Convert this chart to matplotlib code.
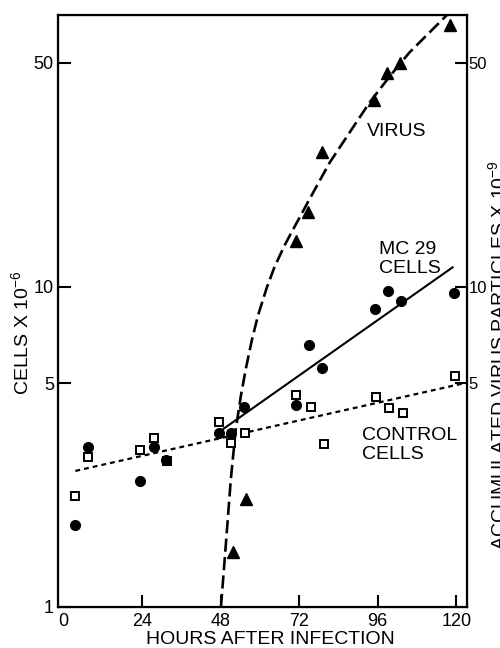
import matplotlib
matplotlib.use('Agg')
import matplotlib.pyplot as plt

plt.rcParams['font.family'] = ['Liberation Sans', 'DejaVu Sans']
plt.rcParams['mathtext.default'] = 'regular'

# MC 29 infected cells (filled circles)
mc29_hours = [3.6, 7.5, 23.4, 27.5, 31.3, 47.4, 51.3, 55.1, 71.1, 74.9, 79.1, 95.3, 99.1, 103.2, 119.2]
mc29_cells = [1.80, 3.16, 2.48, 3.16, 2.87, 3.49, 3.49, 4.21, 4.26, 6.59, 5.57, 8.52, 9.73, 9.04, 9.55]

# control cells (open squares)
ctrl_hours = [3.6, 7.6, 23.4, 27.5, 31.5, 47.4, 51.3, 55.5, 71.1, 75.5, 79.6, 95.5, 99.6, 103.6, 119.6]
ctrl_cells = [2.22, 2.94, 3.09, 3.37, 2.86, 3.78, 3.25, 3.49, 4.58, 4.21, 3.22, 4.54, 4.18, 4.03, 5.28]

# accumulated virus particles (filled triangles)
virus_hours = [51.7, 55.7, 71.0, 74.7, 78.9, 95.0, 98.7, 102.7, 118.2]
virus_particles = [1.49, 2.18, 13.9, 17.1, 26.4, 38.4, 46.6, 50.1, 65.9]

# fitted lines as drawn in the figure
mc29_fit_hours = [47.5, 118.9]
mc29_fit_cells = [3.52, 11.5]
ctrl_fit_hours = [3.6, 122.5]
ctrl_fit_cells = [2.66, 5.0]
virus_fit_hours = [48.1, 49.6, 51.1, 52.6, 54.2, 55.7, 57.5, 59.4, 62.1, 64.5, 67.6, 70.6,
                   75.2, 81.3, 87.4, 93.5, 99.6, 105.7, 111.8, 117.9]
virus_fit_particles = [1.0, 1.57, 2.49, 3.57, 4.57, 5.54, 6.78, 8.12, 9.93, 11.55, 13.5, 15.4,
                       18.8, 24.4, 30.3, 37.6, 45.3, 53.9, 62.2, 71.8]

fig = plt.figure(figsize=(5, 6.48), dpi=100)
ax = fig.add_axes([0.116, 0.0633, 0.818, 0.9136])

ax.plot(virus_fit_hours, virus_fit_particles, color='black', lw=1.9, dashes=(5, 2))
ax.plot(mc29_fit_hours, mc29_fit_cells, color='black', lw=1.5)
ax.plot(ctrl_fit_hours, ctrl_fit_cells, color='black', lw=1.6, dashes=(2.2, 1.8))

ax.plot(ctrl_hours, ctrl_cells, ls='none', marker='s', ms=6.3, mfc='white', mec='black', mew=1.4, zorder=3)
ax.plot(mc29_hours, mc29_cells, ls='none', marker='o', ms=7, color='black', zorder=4)
ax.plot(virus_hours, virus_particles, ls='none', marker='^', ms=9, color='black', zorder=4)

ax.set_yscale('log')
ax.set_xlim(-1.7, 123.3)
ax.set_ylim(1, 70.6)

ax.set_xticks([0, 24, 48, 72, 96, 120])
ax.set_xticklabels(['0', '24', '48', '72', '96', '120'])
ax.set_yticks([1, 5, 10, 50])
ax.set_yticklabels(['1', '5', '10', '50'])
ax.minorticks_off()
ax.tick_params(direction='in', length=9, width=1.5, labelsize=13)
ax.tick_params(axis='x', pad=4)
ax.tick_params(axis='y', pad=3)
ax.get_xticklines()[0].set_visible(False)
ax.get_yticklines()[0].set_visible(False)

for s in ax.spines.values():
    s.set_linewidth(1.6)

# right hand axis for virus particles, same scale
ax2 = ax.twinx()
ax2.set_yscale('log')
ax2.set_ylim(ax.get_ylim())
ax2.set_yticks([5, 10, 50])
ax2.set_yticklabels(['5', '10', '50'])
ax2.minorticks_off()
ax2.tick_params(direction='in', length=9, width=1.5, labelsize=12, pad=1)

ax.text(92.6, 30.5, 'VIRUS', fontsize=14, ha='left', va='center')
ax.text(96.5, 12.2, 'MC 29\nCELLS', fontsize=14, ha='left', va='center', linespacing=1.1)
ax.text(91.1, 3.21, 'CONTROL\nCELLS', fontsize=14, ha='left', va='center', linespacing=1.15)

fig.text(21 / 500, 1 - 333 / 648, 'CELLS X 10$^{-6}$', rotation=90, ha='center', va='center', fontsize=14)
fig.text(270 / 500, 9 / 648, 'HOURS AFTER INFECTION', ha='center', va='center', fontsize=14)
fig.text(498 / 500, 1 - 355 / 648, 'ACCUMULATED VIRUS PARTICLES X 10$^{-9}$', rotation=90,
         ha='center', va='center', fontsize=14)

fig.savefig('out.png', dpi=100)
